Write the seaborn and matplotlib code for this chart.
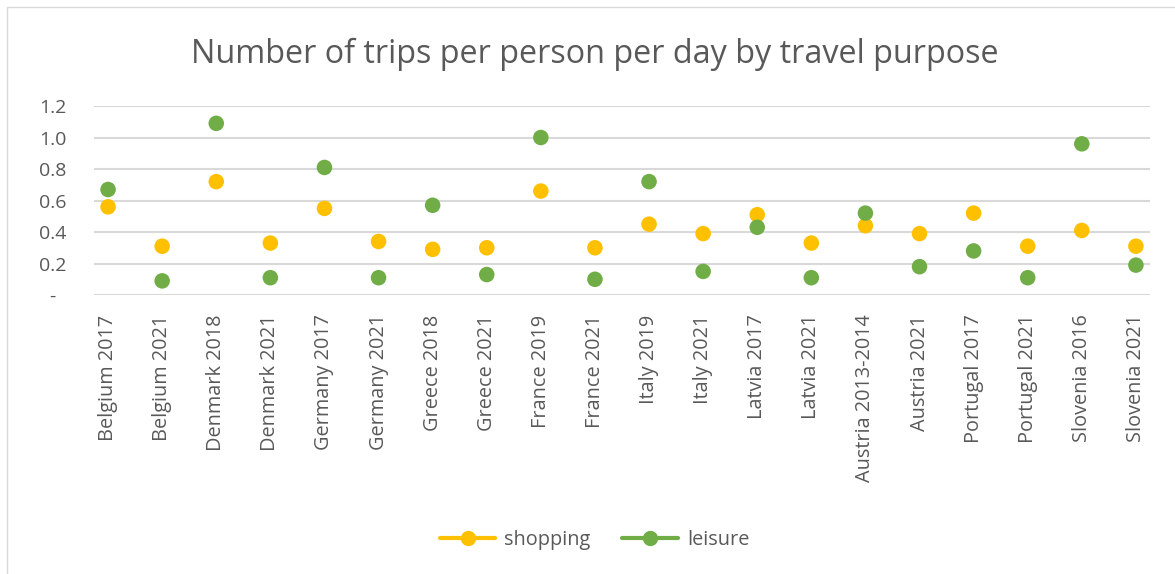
import matplotlib
matplotlib.use("Agg")
import matplotlib.pyplot as plt
from matplotlib.lines import Line2D
from matplotlib.patches import Rectangle
import pandas as pd
import seaborn as sns

categories = ["Belgium 2017", "Belgium 2021", "Denmark 2018", "Denmark 2021",
              "Germany 2017", "Germany 2021", "Greece 2018", "Greece 2021",
              "France 2019", "France 2021", "Italy 2019", "Italy 2021",
              "Latvia 2017", "Latvia 2021", "Austria 2013-2014", "Austria 2021",
              "Portugal 2017", "Portugal 2021", "Slovenia 2016", "Slovenia 2021"]
shopping = [0.56, 0.31, 0.72, 0.33, 0.55, 0.34, 0.29, 0.30, 0.66, 0.30,
            0.45, 0.39, 0.51, 0.33, 0.44, 0.39, 0.52, 0.31, 0.41, 0.31]
leisure = [0.67, 0.09, 1.09, 0.11, 0.81, 0.11, 0.57, 0.13, 1.00, 0.10,
           0.72, 0.15, 0.43, 0.11, 0.52, 0.18, 0.28, 0.11, 0.96, 0.19]
y_ticks = [0, 0.2, 0.4, 0.6, 0.8, 1.0, 1.2]
y_tick_labels = ["-  ", "0.2", "0.4", "0.6", "0.8", "1.0", "1.2"]

colors = {"shopping": "#FFC000", "leisure": "#70AD47"}
text_color = "#595959"

sns.set_theme(style="white")
plt.rcParams["font.family"] = ["Open Sans", "DejaVu Sans"]

df = pd.DataFrame({
    "category": categories * 2,
    "value": shopping + leisure,
    "purpose": ["shopping"] * len(categories) + ["leisure"] * len(categories),
})

fig = plt.figure(figsize=(11.75, 5.74), dpi=100)
ax = fig.add_axes([0.08, 0.486, 0.8987, 0.3293])
sns.scatterplot(data=df, x="category", y="value", hue="purpose", palette=colors,
                s=125, linewidth=0, legend=False, ax=ax, zorder=3)

ax.set_xlim(-0.26, len(categories) - 1 + 0.26)
ax.set_ylim(0, 1.2)
ax.set_xticks(range(len(categories)))
ax.set_xticklabels(categories, rotation=90)
ax.set_yticks(y_ticks)
ax.set_yticklabels(y_tick_labels)
ax.set_xlabel("")
ax.set_ylabel("")
ax.tick_params(axis="x", length=0, pad=14, labelsize=14.3, labelcolor=text_color)
ax.tick_params(axis="y", length=0, pad=20, labelsize=14, labelcolor=text_color)
ax.yaxis.grid(True, color="#d9d9d9", lw=1.5)
ax.xaxis.grid(False)
for sp in ax.spines.values():
    sp.set_visible(False)

fig.text(0.506, 1 - 63 / 574, "Number of trips per person per day by travel purpose",
         ha="center", va="baseline", fontsize=23.3, color=text_color)

handles = [Line2D([], [], color=colors[k], lw=3, marker="o", markersize=10) for k in colors]
fig.legend(handles, list(colors), loc="center", bbox_to_anchor=(0.506, 1 - 540 / 574),
           ncol=2, frameon=False, fontsize=14.3, handlelength=2.8, handletextpad=0.45,
           columnspacing=1.6, labelcolor=text_color)

fig.patches.append(Rectangle((7 / 1175, -0.5), 2, 1.5 - 7 / 574, transform=fig.transFigure,
                             fill=False, edgecolor="#d9d9d9", lw=1))

fig.savefig("out.png", dpi=100)
